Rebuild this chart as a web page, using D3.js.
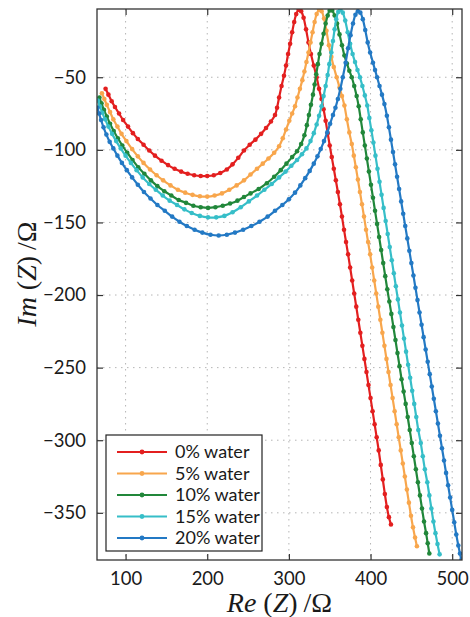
<!DOCTYPE html>
<html>
<meta charset="utf-8">
<style>
  body { margin: 0; background: #fff; }
  .axis text { font-family: Lato, "Open Sans", sans-serif; font-size: 18.5px; fill: #1a1a1a; }
  .axis line { stroke: #333; stroke-width: 1.2px; }
  .axis path { display: none; }
  .grid line { stroke: #b5b5b5; stroke-width: 1px; stroke-dasharray: 1.5,4.5; }
  .legend text { font-family: Lato, "Open Sans", sans-serif; font-size: 18px; fill: #1a1a1a; }
  .title { font-family: "Liberation Serif", "DejaVu Serif", serif; font-size: 28px; fill: #1a1a1a; }
</style>
<svg width="470" height="617"></svg>
<script src="https://d3js.org/d3.v7.min.js"></script>
<script>
  // legend names and colours
  var names = ["0% water", "5% water", "10% water", "15% water", "20% water"];
  var colors = ["#e31f1f", "#f8a64c", "#21873a", "#36bec8", "#2379c4"];

  var xTicks = [100, 200, 300, 400, 500];
  var yTicks = [-50, -100, -150, -200, -250, -300, -350];

  // [Re(Z), Im(Z)]
  var water0 = [[75.5,-58],[79,-62],[83,-66.5],[87,-70.5],[92,-75],[97,-79.5],[103,-84],[109,-88.5],[115,-92.5],[122,-96.5],[129,-100.5],[136,-104],[144,-107.5],[152,-110.5],[160,-113],[168,-115],[176,-116.5],[184,-117.5],[192,-118],[200,-118],[208,-117.5],[216,-116],[224,-113.5],[231,-110],[238,-105.5],[245,-100.5],[252,-96.5],[259,-93],[266,-89],[272,-85],[278,-80.5],[283,-76],[285.5,-71],[288,-64],[291,-56],[294,-49],[296.5,-42],[299,-34],[301.5,-27],[304,-19],[306.5,-12],[309,-6.5],[312,-3.5],[315,-4.5],[318,-9],[321,-17],[324,-26],[327,-34],[330.5,-42],[334,-50],[337,-58],[340,-65],[342.5,-72],[345,-80],[347.5,-88.5],[350,-97],[352.5,-105],[355,-113],[357.5,-121],[360,-129],[362.5,-137.5],[365,-146],[367.5,-155],[370,-163.5],[372.5,-172],[375,-181],[377.5,-190],[380,-199],[382.5,-208],[385,-217],[387.5,-226],[390,-235],[392.5,-244],[395,-253],[397.5,-262],[400,-271],[402.5,-280],[405,-289],[407.5,-298],[410,-307],[412.5,-317],[415,-327],[417.5,-337],[420,-346],[422.5,-353],[425,-358]];

  var water5 = [[71,-61],[74,-65],[77,-69],[81,-74],[85,-79],[90,-84],[95,-89],[101,-94],[108,-99.5],[115,-104.5],[122,-109],[130,-113.5],[138,-117.5],[146,-121],[155,-124.5],[164,-127.5],[173,-129.5],[182,-131],[191,-132],[200,-132.2],[209,-131.5],[218,-130],[227,-127.5],[236,-124.5],[245,-121],[253,-117],[261,-113],[268,-109.5],[275,-106],[282,-102],[288,-97.5],[292.5,-92],[296.5,-86],[300.5,-80],[304,-75],[307.5,-70],[310.5,-64],[313.5,-58],[316.5,-52],[319,-46],[321.5,-39.5],[324,-33],[326.5,-26],[329,-19],[331.5,-12],[334,-6.5],[337,-3.5],[340,-4.5],[343,-9.5],[346,-18],[349,-28],[352,-36],[355,-43],[358.5,-50],[362,-57],[365,-63],[368,-69.5],[371,-79],[374,-88],[377,-96],[379.5,-104],[382,-112],[384.5,-120.5],[387,-129],[389.5,-137.5],[392,-146],[394.5,-155],[397,-163.5],[399.5,-172],[402,-181],[404.5,-190],[407,-199],[409.5,-208],[412,-217],[414.5,-226],[417,-235],[419.5,-244],[422,-253],[424.5,-262],[427,-271],[429.5,-280],[432,-289],[434.5,-298],[437,-307],[439.5,-316],[442,-325],[444.5,-334],[447,-343],[449.5,-352],[452,-360],[454.5,-367],[456.8,-373]];

  var water10 = [[68,-64],[70.5,-68],[73.5,-72.5],[77,-77],[81,-82],[85.5,-87],[90.5,-92],[96,-97],[102,-102],[108.5,-107],[115.5,-112],[123,-116.5],[131,-121],[139,-125],[147.5,-128.5],[156,-131.5],[165,-134.5],[174,-136.5],[183,-138.5],[192,-139.5],[201,-140],[210,-139.5],[219,-138.5],[228,-137],[237,-135],[245,-132.5],[253,-130],[263,-127],[273,-123],[282,-118.5],[290,-114],[297,-109.5],[304,-105],[310,-101],[315,-96],[319,-90],[322,-83],[324.5,-76],[327,-69],[329.5,-62],[331.5,-55],[333.5,-48],[335.5,-41],[337.5,-34],[340,-27],[342.5,-20],[345,-13],[347.5,-7.5],[350,-4],[353,-4],[356,-7.5],[359,-13],[362,-20.5],[365,-28],[368,-35],[371,-40.5],[374,-45.5],[377,-50],[380,-56],[383,-63],[385.5,-70],[388,-79],[390.5,-88],[393,-97],[395.5,-106],[398,-115],[400.5,-124],[403,-133],[405.5,-142],[408,-151],[410.5,-160],[413,-169],[415.5,-178],[418,-187],[420.5,-196],[423,-204.5],[425.5,-213],[428,-222],[430.5,-231],[433,-240],[435.5,-249],[438,-258],[440.5,-266.5],[443,-275],[445.5,-284],[448,-293],[450.5,-302],[453,-311],[455.5,-320],[458,-329],[460.5,-338],[463,-347],[465.5,-356],[468,-364],[470,-371],[472,-378]];

  var water15 = [[66,-66],[68.5,-70],[71.5,-74.5],[75,-79],[79,-84],[83.5,-89],[88.5,-94],[94,-99],[100,-104],[106.5,-109],[113.5,-114],[121,-119],[129,-123.5],[137,-127.5],[145.5,-131.5],[154,-135],[163,-138],[172,-141],[181,-143.5],[191,-145.5],[201,-146.5],[211,-146.5],[221,-145.5],[231,-143],[241,-139.5],[251,-135.5],[261,-131.5],[270,-127.5],[279,-123.5],[288,-119],[296,-115],[303,-111],[310,-107],[316,-103],[321.5,-99],[326.5,-94],[330.5,-88.5],[334,-82.5],[337,-76.5],[340,-70],[342.5,-63],[345,-56],[347.5,-48.5],[349.5,-41],[352,-33],[354,-25],[356,-17],[358,-10],[360.5,-5],[363,-3.5],[366,-5.5],[369,-11],[372,-19],[375,-27],[378,-34],[381,-39.5],[384,-45],[387,-50],[390,-56],[393,-62.5],[396,-69.5],[398.5,-78],[401,-86.5],[403.5,-95],[406,-104],[408.5,-113],[411,-122],[413.5,-131],[416,-140],[418.5,-149],[421,-158],[423.5,-167],[426,-176],[428.5,-185],[431,-194],[433.5,-203],[436,-212],[438.5,-221],[441,-230],[443.5,-239],[446,-248],[448.5,-257],[451,-266],[453.5,-275],[456,-284],[458.5,-293],[461.5,-302],[464,-311],[466.5,-320],[469.5,-329],[472,-338],[474.5,-347],[477,-356],[479.5,-364],[482,-371.5],[484.6,-378.6]];

  var water20 = [[65.5,-71],[67.5,-75],[70,-79.5],[73,-84.5],[76.5,-89.5],[80.5,-94.5],[85,-99],[90,-104],[95.5,-109],[101.5,-114],[108,-119],[115,-124],[122.5,-129],[130.5,-133.5],[139,-138],[148,-142],[157,-146],[166,-149.5],[175,-152.5],[184.5,-155],[194,-157],[204,-158.5],[214,-159],[224,-158.5],[234,-157],[244,-155],[254,-152.5],[264,-149.5],[274,-146],[283,-142],[292,-138],[300,-134],[307.5,-129.5],[314,-124.5],[320,-119.5],[325.5,-114.5],[330.5,-109.5],[335,-104.5],[339,-99.5],[343,-94],[347,-88],[350.5,-82],[354,-76],[357,-71],[360,-65],[363,-58],[366,-50],[369.5,-40],[372.5,-30],[375.5,-21],[378.5,-13],[381.5,-7],[384.5,-4.5],[387.5,-5.5],[390.5,-10],[393.5,-17.5],[396.5,-26],[399.5,-33],[403,-40],[405.5,-45],[408,-50],[411,-56],[414,-62],[417,-68.5],[420,-76.5],[422.5,-84.5],[425,-93],[427.5,-101.5],[430,-110],[432.5,-118.5],[435,-127],[437.5,-135.5],[440,-144],[442.5,-152.5],[445,-161],[447.5,-169.5],[450,-178],[452.5,-186.5],[455,-195],[457.5,-203.5],[460,-212],[462.5,-220.5],[465,-229],[467.5,-237.5],[470,-246],[472.5,-254.5],[475,-263],[477.5,-271.5],[480,-280],[482.5,-288.5],[485,-297],[487.5,-305.5],[490,-314],[492.5,-322.5],[495,-331],[497.5,-339.5],[500,-348],[502.5,-356.5],[505,-365],[507.5,-372.5],[509.5,-378],[511.2,-382.5]];

  var series = [water0, water5, water10, water15, water20];

  var svg = d3.select("svg"),
    margin = { top: 9, right: 8, bottom: 57, left: 97 },
    width = +svg.attr("width") - margin.left - margin.right,
    height = +svg.attr("height") - margin.top - margin.bottom,
    g = svg.append("g").attr("transform", "translate(" + margin.left + "," + margin.top + ")");

  var x = d3.scaleLinear().domain([65, 512]).range([0, width]);
  var y = d3.scaleLinear().domain([-382.5, -3]).range([height, 0]);

  // dotted grid
  var grid = g.append("g").attr("class", "grid");
  grid.selectAll(".gx").data(xTicks).enter().append("line")
    .attr("x1", d => x(d)).attr("x2", d => x(d)).attr("y1", 0).attr("y2", height);
  grid.selectAll(".gy").data(yTicks).enter().append("line")
    .attr("y1", d => y(d)).attr("y2", d => y(d)).attr("x1", 0).attr("x2", width);

  // axes, ticks pointing inward on all four sides
  g.append("g").attr("class", "axis")
    .attr("transform", "translate(0," + height + ")")
    .call(d3.axisBottom(x).tickValues(xTicks).tickSize(-6).tickPadding(12));
  g.append("g").attr("class", "axis")
    .call(d3.axisLeft(y).tickValues(yTicks).tickSize(-6).tickPadding(11));
  g.append("g").attr("class", "axis")
    .call(d3.axisTop(x).tickValues(xTicks).tickSize(-6).tickFormat(""));
  g.append("g").attr("class", "axis")
    .attr("transform", "translate(" + width + ",0)")
    .call(d3.axisRight(y).tickValues(yTicks).tickSize(-6).tickFormat(""));

  svg.append("clipPath").attr("id", "clip")
    .append("rect").attr("width", width).attr("height", height);

  var line = d3.line().x(d => x(d[0])).y(d => y(d[1])).curve(d3.curveCatmullRom);

  var plot = g.append("g").attr("clip-path", "url(#clip)");
  var curves = plot.selectAll(".series").data(series).enter().append("g")
    .attr("fill", (d, i) => colors[i]).attr("stroke", (d, i) => colors[i]);

  curves.append("path")
    .attr("d", line).attr("fill", "none").attr("stroke-width", 2.2);

  curves.selectAll("circle").data(d => d).enter().append("circle")
    .attr("cx", d => x(d[0])).attr("cy", d => y(d[1])).attr("r", 2.3).attr("stroke", "none");

  // frame
  g.append("rect").attr("width", width).attr("height", height)
    .attr("fill", "none").attr("stroke", "#333").attr("stroke-width", 1.3);

  // legend
  var legend = g.append("g").attr("class", "legend").attr("transform", "translate(9,426)");
  legend.append("rect").attr("width", 156).attr("height", 116)
    .attr("fill", "#fff").attr("stroke", "#222").attr("stroke-width", 1.2);
  var item = legend.selectAll(".item").data(names).enter().append("g")
    .attr("transform", (d, i) => "translate(0," + (17 + i * 21.5) + ")");
  item.append("line").attr("x1", 11).attr("x2", 61)
    .attr("stroke", (d, i) => colors[i]).attr("stroke-width", 2);
  item.append("circle").attr("cx", 36).attr("r", 2.4).attr("fill", (d, i) => colors[i]);
  item.append("text").attr("x", 69).attr("dy", "0.35em").text(d => d);

  // axis titles
  var xt = svg.append("text").attr("class", "title")
    .attr("x", margin.left + width / 2).attr("y", 612).attr("text-anchor", "middle");
  xt.append("tspan").attr("font-style", "italic").text("Re");
  xt.append("tspan").attr("dx", 7).text("(");
  xt.append("tspan").attr("font-style", "italic").text("Z");
  xt.append("tspan").text(")");
  xt.append("tspan").attr("dx", 6).text("/Ω");

  var yt = svg.append("text").attr("class", "title")
    .attr("transform", "translate(36,274) rotate(-90)").attr("text-anchor", "middle");
  yt.append("tspan").attr("font-style", "italic").text("Im");
  yt.append("tspan").attr("dx", 7).text("(");
  yt.append("tspan").attr("font-style", "italic").text("Z");
  yt.append("tspan").text(")");
  yt.append("tspan").attr("dx", 6).text("/Ω");
</script>
</html>
